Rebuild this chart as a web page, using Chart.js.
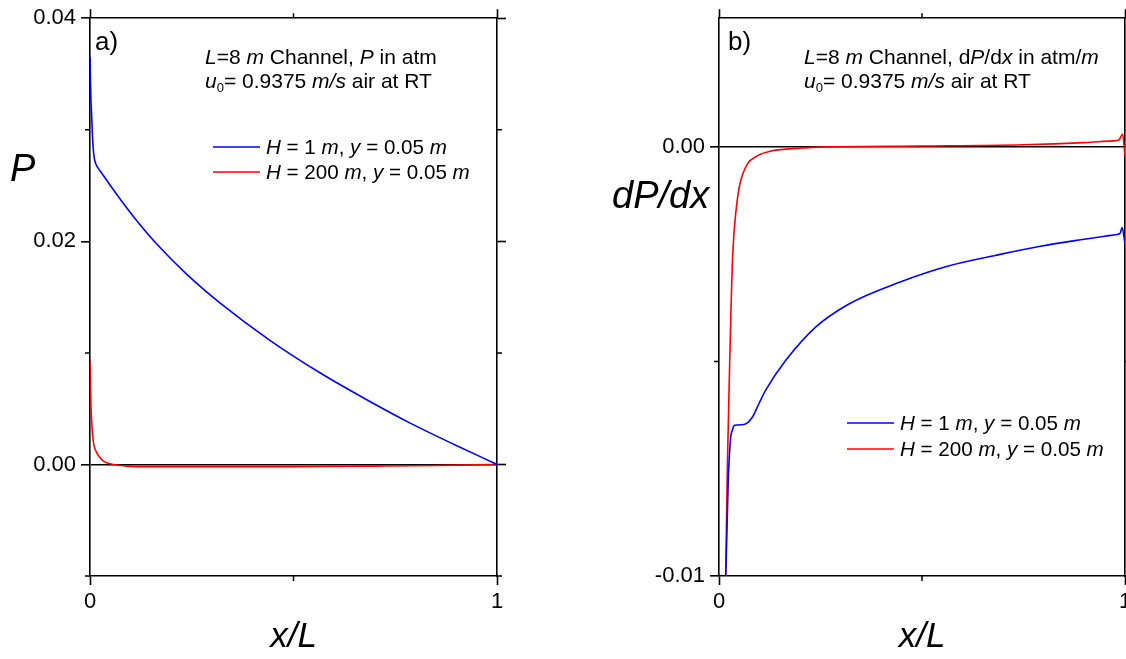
<!DOCTYPE html>
<html>
<head>
<meta charset="utf-8">
<script src="https://cdn.jsdelivr.net/npm/chart.js@4.4.1/dist/chart.umd.min.js"></script>
<style>
  html, body { margin: 0; padding: 0; background: #fff; }
  #wrap { position: relative; width: 1126px; height: 659px; overflow: hidden; }
  canvas { position: absolute; top: 0; }
  #chartA { left: 0; }
  #chartB { left: 563px; }
</style>
</head>
<body>
<div id="wrap">
  <canvas id="chartA" width="563" height="659"></canvas>
  <canvas id="chartB" width="563" height="659"></canvas>
</div>
<script>
// a) P (atm) along the channel
const xA1 = [0, 0.001, 0.002, 0.004, 0.006, 0.008, 0.010, 0.012, 0.016, 0.025, 0.033, 0.05, 0.078, 0.115, 0.164, 0.238, 0.32, 0.443, 0.567, 0.68, 0.788, 0.9, 1.0];
const pA1 = [0.0365, 0.0345, 0.0330, 0.0313, 0.0295, 0.0283, 0.0276, 0.0272, 0.0268, 0.0263, 0.0259, 0.0250, 0.0236, 0.02185, 0.01976, 0.01704, 0.01446, 0.0111, 0.00817, 0.0058, 0.00368, 0.0017, 0.0];
const xA2 = [0, 0.001, 0.002, 0.004, 0.008, 0.016, 0.025, 0.033, 0.045, 0.057, 0.075, 0.09, 0.15, 0.3, 0.5, 0.7, 0.85, 0.95, 1.0];
const pA2 = [0.0093, 0.0072, 0.0056, 0.0039, 0.0021, 0.0011, 0.0006, 0.0003, 0.0001, 0.0, -0.0001, -0.00015, -0.0002, -0.0002, -0.0002, -0.00015, -0.0001, -0.00004, 0.0];

// b) dP/dx (atm/m)
const xB1 = [0.0165, 0.020, 0.023, 0.0246, 0.0288, 0.033, 0.037, 0.045, 0.0616, 0.082, 0.0985, 0.115, 0.164, 0.238, 0.32, 0.443, 0.567, 0.68, 0.788, 0.9, 0.95, 0.98, 0.988, 0.993, 1.0];
const gB1 = [-0.0100, -0.0088, -0.0077, -0.00737, -0.00676, -0.0066, -0.00649, -0.00648, -0.00647, -0.0063, -0.00598, -0.00567, -0.00498, -0.0042, -0.00366, -0.00316, -0.00277, -0.00253, -0.00232, -0.00215, -0.00208, -0.00204, -0.00201, -0.00188, -0.00226];
const xB2 = [0.0165, 0.0205, 0.0263, 0.0295, 0.0328, 0.037, 0.041, 0.047, 0.0534, 0.0698, 0.094, 0.131, 0.197, 0.27, 0.5, 0.75, 0.9, 0.97, 0.985, 0.994, 1.0];
const gB2 = [-0.0100, -0.0075, -0.00505, -0.0038, -0.00273, -0.0020, -0.00157, -0.0011, -0.00079, -0.0004, -0.00021, -0.00009, -0.00003, 0.0, 0.00002, 0.00005, 0.0001, 0.00014, 0.00016, 0.0003, -0.00021];

const seriesLabels = ['H = 1 m, y = 0.05 m', 'H = 200 m, y = 0.05 m'];
const minorX = [0.5];
const minorYA = [-0.01, 0.01, 0.03];
const minorYB = [-0.005];

const FONT = '"Liberation Sans", Arial, sans-serif';
Chart.defaults.font.family = FONT;
Chart.defaults.color = '#000';

function pts(xs, ys) {
  return xs.map((x, i) => ({ x: x, y: ys[i] }));
}

// draws text made of pieces: '' normal, 'i' italic, 'sub' subscript
function drawRich(ctx, x, y, parts, size) {
  parts.forEach(([t, st]) => {
    let fs = size, dy = 0;
    if (st === 'sub') { fs = Math.round(size * 0.62); dy = size * 0.2; }
    ctx.font = (st === 'i' ? 'italic ' : '') + fs + 'px ' + FONT;
    ctx.fillText(t, x, y + dy);
    x += ctx.measureText(t).width;
  });
}

const legendParts = [
  [['H', 'i'], [' = 1 ', ''], ['m', 'i'], [', ', ''], ['y', 'i'], [' = 0.05 ', ''], ['m', 'i']],
  [['H', 'i'], [' = 200 ', ''], ['m', 'i'], [', ', ''], ['y', 'i'], [' = 0.05 ', ''], ['m', 'i']]
];

const decor = {
  id: 'decor',
  afterDraw(chart, args, o) {
    const ctx = chart.ctx;
    const a = chart.chartArea;
    ctx.save();
    ctx.fillStyle = '#000';
    ctx.strokeStyle = '#000';
    ctx.lineWidth = 1.5;
    // minor ticks
    const sx = chart.scales.x, sy = chart.scales.y;
    ctx.beginPath();
    o.minorX.forEach(v => {
      const px = sx.getPixelForValue(v);
      ctx.moveTo(px, a.bottom); ctx.lineTo(px, a.bottom + 5);
      ctx.moveTo(px, a.top); ctx.lineTo(px, a.top - 5);
    });
    o.minorY.forEach(v => {
      const py = sy.getPixelForValue(v);
      ctx.moveTo(a.left, py); ctx.lineTo(a.left - 5, py);
      ctx.moveTo(a.right, py); ctx.lineTo(a.right + 5, py);
    });
    ctx.stroke();

    ctx.textBaseline = 'alphabetic';
    ctx.textAlign = 'left';
    // panel letter
    ctx.font = '26px ' + FONT;
    ctx.fillText(o.letter, o.letterX, o.letterY);
    // notes
    o.notes.forEach((n, i) => drawRich(ctx, o.noteX, o.noteY + i * 24, n, 21));
    // y title
    ctx.textBaseline = 'middle';
    drawRich(ctx, o.titleX, o.titleY, [[o.title, 'i']], 38);
    // legend
    chart.data.datasets.forEach((ds, i) => {
      const ly = o.legY + i * o.legGap;
      ctx.strokeStyle = ds.borderColor;
      ctx.lineWidth = 1.6;
      ctx.beginPath();
      ctx.moveTo(o.legX, ly);
      ctx.lineTo(o.legX + 47, ly);
      ctx.stroke();
      drawRich(ctx, o.legX + 53, ly + 1, legendParts[i], 20.6);
    });
    ctx.restore();
  }
};

function makeChart(id, d1, d2, yMin, yMax, yStep, sizes, deco) {
  const tickFont = { size: 22 };
  const border = { display: true, color: '#000', width: 1.6 };
  const noPad = s => { s.paddingLeft = 0; s.paddingRight = 0; };
  return new Chart(document.getElementById(id), {
    type: 'line',
    data: {
      datasets: [
        { label: seriesLabels[0], data: d1, borderColor: '#0000ff', borderWidth: 1.6, pointRadius: 0, fill: false, cubicInterpolationMode: 'monotone' },
        { label: seriesLabels[1], data: d2, borderColor: '#ff0000', borderWidth: 1.6, pointRadius: 0, fill: false, cubicInterpolationMode: 'monotone' }
      ]
    },
    options: {
      responsive: false,
      animation: false,
      devicePixelRatio: 1,
      layout: { padding: 0 },
      plugins: { legend: { display: false }, tooltip: { enabled: false }, decor: deco },
      scales: {
        x: {
          type: 'linear', position: 'bottom', min: 0, max: 1,
          ticks: { stepSize: 1, font: tickFont, padding: 4, maxRotation: 0 },
          grid: { drawOnChartArea: false, tickLength: 9, tickColor: '#000', tickWidth: 1.6 },
          border: border,
          title: { display: true, text: 'x/L', font: { size: 35, style: 'italic' }, padding: { top: 0, bottom: 1 } },
          afterFit: s => { s.height = sizes.bottom; noPad(s); }
        },
        x2: {
          type: 'linear', position: 'top', min: 0, max: 1,
          ticks: { stepSize: 1, display: false },
          grid: { drawOnChartArea: false, tickLength: 9, tickColor: '#000', tickWidth: 1.6 },
          border: border,
          afterFit: s => { s.height = sizes.top; noPad(s); }
        },
        y: {
          type: 'linear', position: 'left', min: yMin, max: yMax,
          ticks: { stepSize: yStep, includeBounds: false, font: tickFont, padding: 5, callback: v => v.toFixed(2) },
          grid: {
            drawOnChartArea: true, tickLength: 9, tickColor: '#000', tickWidth: 1.6,
            color: c => (c.tick && Math.abs(c.tick.value) < 1e-9) ? '#000' : 'rgba(0,0,0,0)',
            lineWidth: 1.6
          },
          border: border,
          afterFit: s => { s.width = sizes.left; }
        },
        y2: {
          type: 'linear', position: 'right', min: yMin, max: yMax,
          ticks: { stepSize: yStep, includeBounds: false, display: false },
          grid: { drawOnChartArea: false, tickLength: 9, tickColor: '#000', tickWidth: 1.6 },
          border: border,
          afterFit: s => { s.width = sizes.right; }
        }
      }
    },
    plugins: [decor]
  });
}

makeChart('chartA', pts(xA1, pA1), pts(xA2, pA2), -0.01, 0.04, 0.02,
  { left: 90, right: 66, top: 16, bottom: 83 },
  {
    minorX: minorX, minorY: minorYA, letter: 'a)', letterX: 95, letterY: 50,
    notes: [
      [['L', 'i'], ['=8 ', ''], ['m', 'i'], [' Channel, ', ''], ['P', 'i'], [' in atm', '']],
      [['u', 'i'], ['0', 'sub'], ['= 0.9375 ', ''], ['m/s', 'i'], [' air at RT', '']]
    ],
    noteX: 205, noteY: 64, title: 'P', titleX: 10, titleY: 170,
    legX: 213, legY: 147, legGap: 25
  });

makeChart('chartB', pts(xB1, gB1), pts(xB2, gB2), -0.01, 0.003, 0.01,
  { left: 156, right: 1, top: 16, bottom: 83 },
  {
    minorX: minorX, minorY: minorYB, letter: 'b)', letterX: 165, letterY: 50,
    notes: [
      [['L', 'i'], ['=8 ', ''], ['m', 'i'], [' Channel, d', ''], ['P', 'i'], ['/d', ''], ['x', 'i'], [' in atm/', ''], ['m', 'i']],
      [['u', 'i'], ['0', 'sub'], ['= 0.9375 ', ''], ['m/s', 'i'], [' air at RT', '']]
    ],
    noteX: 241, noteY: 64, title: 'dP/dx', titleX: 49, titleY: 197,
    legX: 284, legY: 423, legGap: 26
  });
</script>
</body>
</html>
